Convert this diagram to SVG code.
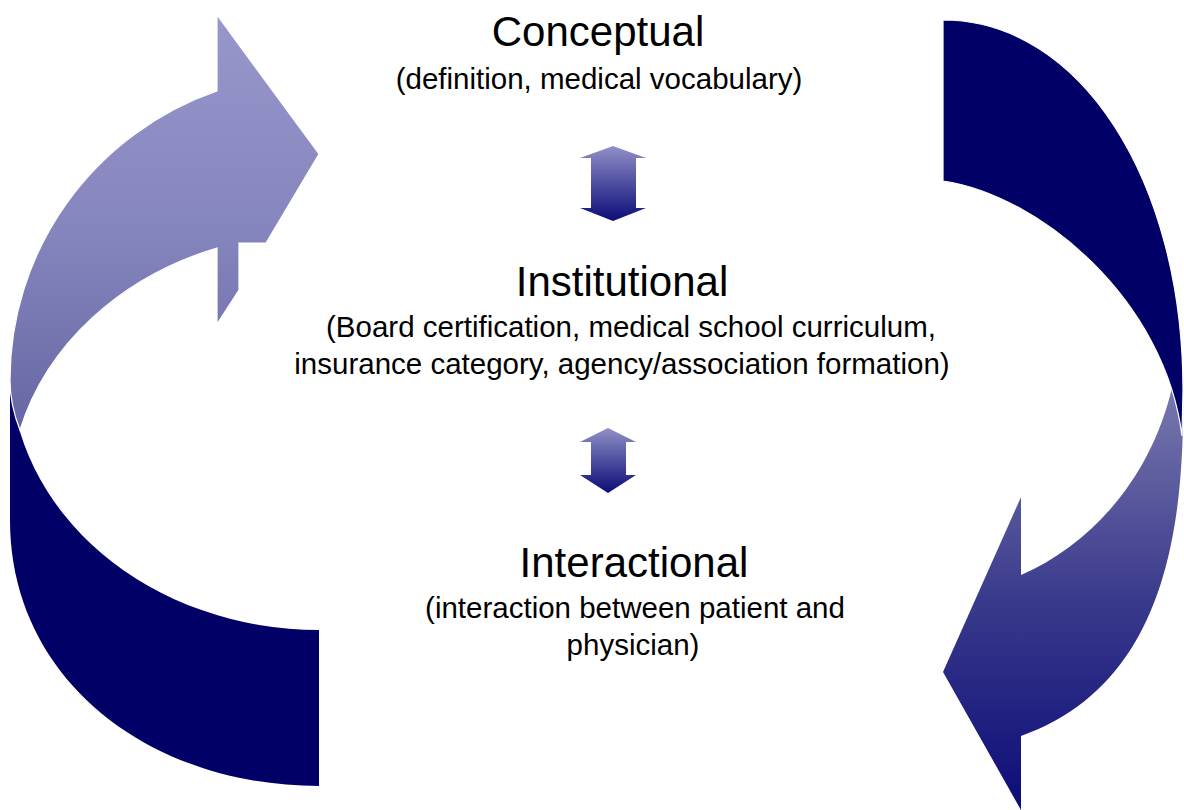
<svg xmlns="http://www.w3.org/2000/svg" width="1184" height="810" viewBox="0 0 1184 810">
<defs>
<linearGradient id="gLightL" x1="0" y1="15" x2="0" y2="440" gradientUnits="userSpaceOnUse">
<stop offset="0" stop-color="#9797CB"/>
<stop offset="0.5" stop-color="#8686BE"/>
<stop offset="1" stop-color="#6565A3"/>
</linearGradient>
<linearGradient id="gLightR" x1="0" y1="388" x2="0" y2="810" gradientUnits="userSpaceOnUse">
<stop offset="0" stop-color="#7878AE"/>
<stop offset="0.5" stop-color="#3A3A8C"/>
<stop offset="1" stop-color="#0C0C78"/>
</linearGradient>
<linearGradient id="gSmall" x1="0" y1="0" x2="0" y2="1">
<stop offset="0" stop-color="#9090C8"/>
<stop offset="1" stop-color="#0C0C78"/>
</linearGradient>
<style>
.dark{fill:#000066;}
.sep{stroke:#ffffff;stroke-width:1.2;}
.title{font-family:"Liberation Sans",Arial,sans-serif;font-size:42px;fill:#000000;text-anchor:middle;}
.sub{font-family:"Liberation Sans",Arial,sans-serif;font-size:29.5px;fill:#000000;text-anchor:middle;}
</style>
</defs>
<rect x="0" y="0" width="1184" height="810" fill="#ffffff"/>
<g id="cycle-arrows">
<g id="arrow-bottom-left">
<path class="dark" d="M10,368 L10,520 C10,680 150,786 319,786 L319,630 A309 265 0 0 1 10,368 Z"/>
</g>
<g id="arrow-top-left">
<path class="sep" fill="url(#gLightL)" d="M20,430 C12,410 10,395 10,380 A309 306 0 0 1 217,91 L217,15 L319,154 L266,243 L239,243 L239,290 L217,324 L217,248 A309 265 0 0 0 20,430 Z"/>
</g>
<g id="arrow-bottom-right">
<path fill="url(#gLightR)" d="M1021,497 L1021,575 C1090,545 1150,480 1172,388 L1183,395 C1185,560 1150,690 1021,736 L1021,810 L943,672 Z"/>
</g>
<g id="arrow-top-right">
<path class="dark sep" d="M943,20 C1080,20 1183,180 1183,390 L1182,436 C1165,300 1040,195 943,181 Z"/>
</g>
</g>
<g id="connectors">
<path fill="url(#gSmall)" d="M613,146 L646,158 L636,158 L636,208 L646,208 L613,221 L580,208 L591,208 L591,158 L580,158 Z"/>
<path fill="url(#gSmall)" d="M608,428 L636,442 L626,442 L626,475 L636,475 L608,493 L580,475 L591,475 L591,442 L580,442 Z"/>
</g>
<g id="node-conceptual">
<text class="title" x="598" y="46">Conceptual</text>
<text class="sub" x="599" y="89">(definition, medical vocabulary)</text>
</g>
<g id="node-institutional">
<text class="title" x="622" y="296">Institutional</text>
<text class="sub" x="631" y="337">(Board certification, medical school curriculum,</text>
<text class="sub" x="622" y="374">insurance category, agency/association formation)</text>
</g>
<g id="node-interactional">
<text class="title" x="634" y="577">Interactional</text>
<text class="sub" x="635" y="618">(interaction between patient and</text>
<text class="sub" x="633" y="655">physician)</text>
</g>
</svg>
